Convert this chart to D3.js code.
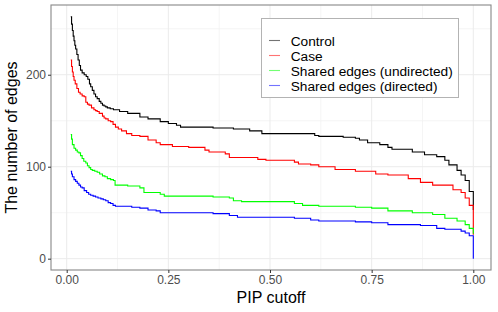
<!DOCTYPE html>
<html>
<head>
<meta charset="utf-8">
<script src="https://cdn.jsdelivr.net/npm/d3@7"></script>
<style>
  body { margin: 0; background: #fff; }
  text { font-family: "Liberation Sans", Arial, sans-serif; }
</style>
</head>
<body>
<div id="chart"></div>
<script>
// Step breakpoints (PIP cutoff -> number of edges)
const controlX = [0.010,0.012,0.014,0.016,0.018,0.020,0.022,0.025,0.028,0.031,0.034,0.038,0.043,0.048,0.052,0.056,0.059,0.063,0.067,0.071,0.075,0.080,0.084,0.088,0.092,0.096,0.100,0.107,0.115,0.13,0.15,0.18,0.20,0.23,0.25,0.27,0.28,0.36,0.41,0.45,0.48,0.61,0.62,0.68,0.71,0.72,0.74,0.77,0.79,0.80,0.85,0.88,0.91,0.93,0.94,0.96,0.97,0.98,0.99,1.00];
const controlY = [263,255,248,242,237,232,228,222,216,210,205,202,200,198,195,190,187,183,179,176,174,171,169,167,166,165,164,163,162,160,158,154,152,149,147,145,143,142,141,139,136,134,133,132,131,129,126,124,121,119,116,113,111,107,102,96,91,85,73,53];

const caseX = [0.010,0.012,0.014,0.016,0.018,0.021,0.025,0.029,0.033,0.038,0.043,0.047,0.051,0.055,0.061,0.067,0.071,0.075,0.080,0.088,0.092,0.096,0.102,0.108,0.114,0.120,0.127,0.135,0.147,0.16,0.18,0.20,0.22,0.23,0.26,0.30,0.34,0.35,0.39,0.40,0.47,0.49,0.56,0.57,0.60,0.62,0.66,0.71,0.76,0.79,0.84,0.87,0.90,0.95,0.97,0.98,0.99,1.00];
const caseY = [216,209,203,198,194,190,185,181,179,177,176,170,168,167,164,162,161,160,158,155,153,152,150,149,146,143,141,139,136,134,133,129,126,124,122,121,118,116,114,110,108,107,105,103,102,100,97,95,92,91,87,83,80,75,72,66,58,26];

const undirX = [0.010,0.012,0.014,0.018,0.022,0.026,0.030,0.034,0.038,0.042,0.047,0.051,0.055,0.059,0.063,0.069,0.075,0.081,0.088,0.094,0.100,0.108,0.115,0.119,0.15,0.18,0.19,0.23,0.24,0.36,0.40,0.41,0.43,0.56,0.58,0.62,0.71,0.75,0.79,0.85,0.90,0.93,0.96,0.98,0.99,1.00];
const undirY = [135,130,124,120,118,116,115,112,109,106,104,101,99,97,96,95,94,92,90,89,87,86,85,80,79,77,72,70,68,67,66,63,62,60,58,57,56,55,52,50,48,44,41,37,33,27];

const dirX = [0.010,0.012,0.014,0.018,0.022,0.026,0.030,0.034,0.038,0.043,0.049,0.054,0.059,0.065,0.071,0.077,0.084,0.090,0.096,0.102,0.108,0.114,0.120,0.16,0.18,0.20,0.22,0.23,0.36,0.40,0.42,0.56,0.60,0.62,0.71,0.75,0.79,0.87,0.91,0.93,0.97,0.98,0.99,1.00];
const dirY = [95,92,89,86,84,82,80,78,77,74,72,70,69,68,67,66,65,64,63,61,60,58,57,56,55,53,52,50,49,47,45,44,42,41,40,39,37,36,33,32,30,28,25,0];

const seriesNames = ["Control", "Case", "Shared edges (undirected)", "Shared edges (directed)"];
const seriesColors = ["#000000", "#FF0000", "#00FF00", "#0000FF"];
const seriesX = [controlX, caseX, undirX, dirX];
const seriesY = [controlY, caseY, undirY, dirY];

// Axis ticks
const xMajor = [0, 0.25, 0.5, 0.75, 1];
const xMinor = [0.125, 0.375, 0.625, 0.875];
const yMajor = [0, 100, 200];
const yMinor = [50, 150, 250];

const margin = { top: 5, right: 7, bottom: 42, left: 51 };
const width = 498 - margin.left - margin.right;
const height = 312 - margin.top - margin.bottom;

const root = d3.select("#chart")
    .append("svg")
    .attr("width", 498)
    .attr("height", 312);

const svg = root.append("g")
    .attr("transform", `translate(${margin.left},${margin.top})`);

const x = d3.scaleLinear().domain([-0.0386, 1.0435]).range([0, width]);
const y = d3.scaleLinear().domain([-12.3, 275.8]).range([height, 0]);

// grid
svg.selectAll(".gx-minor").data(xMinor).enter().append("line")
    .attr("x1", d => x(d)).attr("x2", d => x(d))
    .attr("y1", 0).attr("y2", height)
    .attr("stroke", "#f3f3f3").attr("stroke-width", 0.8);
svg.selectAll(".gy-minor").data(yMinor).enter().append("line")
    .attr("y1", d => y(d)).attr("y2", d => y(d))
    .attr("x1", 0).attr("x2", width)
    .attr("stroke", "#f3f3f3").attr("stroke-width", 0.8);
svg.selectAll(".gx-major").data(xMajor).enter().append("line")
    .attr("x1", d => x(d)).attr("x2", d => x(d))
    .attr("y1", 0).attr("y2", height)
    .attr("stroke", "#ebebeb").attr("stroke-width", 1);
svg.selectAll(".gy-major").data(yMajor).enter().append("line")
    .attr("y1", d => y(d)).attr("y2", d => y(d))
    .attr("x1", 0).attr("x2", width)
    .attr("stroke", "#ebebeb").attr("stroke-width", 1);

// lines
const line = d3.line()
    .x(d => x(d[0]))
    .y(d => y(d[1]))
    .curve(d3.curveStepAfter);

seriesX.forEach((xs, i) => {
    svg.append("path")
        .datum(xs.map((v, j) => [v, seriesY[i][j]]))
        .attr("fill", "none")
        .attr("stroke", seriesColors[i])
        .attr("stroke-width", 1.1)
        .attr("d", line);
});

// panel border
svg.append("rect")
    .attr("x", 0).attr("y", 0)
    .attr("width", width).attr("height", height)
    .attr("fill", "none")
    .attr("stroke", "#888")
    .attr("stroke-width", 1.1);

// axes
const xAxis = svg.append("g")
    .attr("transform", `translate(0,${height})`)
    .call(d3.axisBottom(x).tickValues(xMajor).tickFormat(d3.format(".2f")).tickSize(3).tickPadding(2));
const yAxis = svg.append("g")
    .call(d3.axisLeft(y).tickValues(yMajor).tickSize(3).tickPadding(2));

[xAxis, yAxis].forEach(a => {
    a.select(".domain").remove();
    a.selectAll("line").attr("stroke", "#333");
    a.selectAll("text")
        .attr("fill", "#4d4d4d")
        .style("font-size", "12px")
        .style("font-family", "'Liberation Sans', Arial, sans-serif");
});

// axis titles
svg.append("text")
    .attr("x", width / 2)
    .attr("y", 298)
    .attr("text-anchor", "middle")
    .style("font-size", "16px")
    .text("PIP cutoff");

svg.append("text")
    .attr("transform", "rotate(-90)")
    .attr("x", -height / 2)
    .attr("y", -34)
    .attr("text-anchor", "middle")
    .style("font-size", "16px")
    .text("The number of edges");

// legend
const legend = root.append("g").attr("transform", "translate(261.5,18.5)");
legend.append("rect")
    .attr("width", 197).attr("height", 79)
    .attr("fill", "#fff")
    .attr("stroke", "#b3b3b3")
    .attr("stroke-width", 1);

seriesNames.forEach((name, i) => {
    const ly = 22 + i * 15;
    legend.append("line")
        .attr("x1", 7.5).attr("x2", 18.5)
        .attr("y1", ly).attr("y2", ly)
        .attr("stroke", seriesColors[i])
        .attr("stroke-opacity", 0.55)
        .attr("stroke-width", 1.1);
    legend.append("text")
        .attr("x", 29.2)
        .attr("y", ly + 5)
        .style("font-size", "13.7px")
        .text(name);
});
</script>
</body>
</html>
